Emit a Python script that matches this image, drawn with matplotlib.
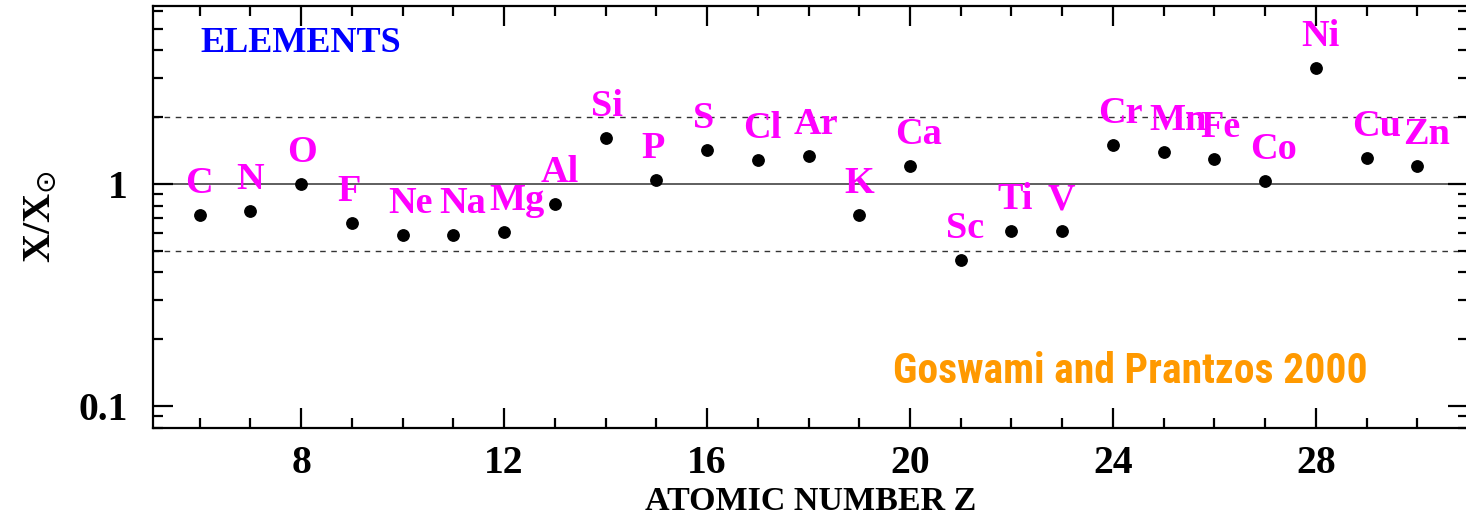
import matplotlib
matplotlib.use("Agg")
import matplotlib.pyplot as plt
from matplotlib import font_manager
from matplotlib.ticker import FixedLocator, LogLocator, NullFormatter, MultipleLocator


# production factors relative to solar, Z = 6..30
elements = ["C", "N", "O", "F", "Ne", "Na", "Mg", "Al", "Si", "P", "S", "Cl", "Ar",
            "K", "Ca", "Sc", "Ti", "V", "Cr", "Mn", "Fe", "Co", "Ni", "Cu", "Zn"]
z_values = list(range(6, 31))
ratios = [0.725, 0.758, 1.00, 0.667, 0.589, 0.589, 0.606, 0.810, 1.617, 1.039,
          1.428, 1.287, 1.332, 0.725, 1.209, 0.453, 0.612, 0.612, 1.493, 1.389,
          1.296, 1.032, 3.32, 1.305, 1.209]

y_ticks = [0.1, 1]
y_tick_labels = ["0.1", "1"]
ref_lines = [0.5, 1.0, 2.0]

installed = {f.name for f in font_manager.fontManager.ttflist}
serif = "Liberation Serif"
narrow = None
for cand in ["Liberation Sans Narrow", "Arial Narrow", "Roboto Condensed"]:
    if cand in installed:
        narrow = cand
        break
if narrow:
    credit_font, credit_size = narrow, 30
else:
    credit_font, credit_size = "Liberation Sans", 25.5

fig = plt.figure(figsize=(14.66, 5.22), dpi=100)
ax = fig.add_axes([0.1044, 0.1801, 0.897, 0.8084])

ax.set_yscale("log")
ax.set_xlim(5.08, 31.0)
ax.set_ylim(0.0796, 6.34)

# reference levels: solar (solid) and factor-of-two band (dashed)
for lvl in ref_lines:
    if lvl == 1.0:
        ax.axhline(lvl, color="#333333", lw=1.1, zorder=1)
    else:
        ax.axhline(lvl, color="#333333", lw=1.0, ls=(0, (4, 4)), zorder=1)

ax.plot(z_values, ratios, "o", color="black", markersize=8.2, zorder=3)

for name, z, r in zip(elements, z_values, ratios):
    ax.annotate(name, xy=(z, r), xytext=(-14.5, 22), textcoords="offset pixels",
                ha="left", va="baseline", color="#ff00ff",
                fontsize=27.5, family=serif, fontweight="bold")

ax.text(0.0357, 0.891, "ELEMENTS", transform=ax.transAxes, color="#0000ff",
        fontsize=26, family=serif, fontweight="bold", va="baseline", ha="left")
ax.text(0.924, 0.1066, "Goswami and Prantzos 2000", transform=ax.transAxes,
        color="#ff9900", fontsize=credit_size, family=credit_font,
        fontweight="bold", ha="right", va="baseline")

# ticks
ax.xaxis.set_major_locator(MultipleLocator(4))
ax.xaxis.set_minor_locator(MultipleLocator(1))
ax.yaxis.set_major_locator(FixedLocator(y_ticks))
ax.yaxis.set_minor_locator(LogLocator(base=10, subs=range(2, 10)))
ax.yaxis.set_minor_formatter(NullFormatter())
ax.set_yticklabels(y_tick_labels)

ax.tick_params(which="both", direction="in", top=True, right=True, width=1.6)
ax.tick_params(which="major", length=14.4)
ax.tick_params(which="minor", length=7.4)
ax.tick_params(axis="x", which="major", pad=12, labelsize=28.5)
ax.tick_params(axis="y", which="major", pad=18, labelsize=28.5)
for lab in ax.get_xticklabels() + ax.get_yticklabels():
    lab.set_family(serif)
    lab.set_fontweight("bold")

for sp in ax.spines.values():
    sp.set_linewidth(1.6)

ax.set_xlabel("ATOMIC NUMBER Z", fontsize=24.5, family=serif,
              fontweight="bold", labelpad=3)
ax.set_ylabel(r"X/X$_{\odot}$", fontsize=29, family=serif, fontweight="bold")
ax.yaxis.set_label_coords(-0.072, 0.5)

fig.savefig("out.png", dpi=100)
